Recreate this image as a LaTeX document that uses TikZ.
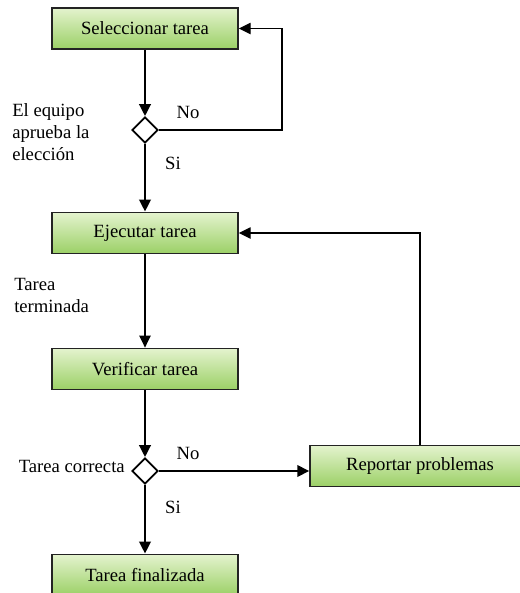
\documentclass[tikz,border=0pt]{standalone}
\usepackage{fontspec}
\setmainfont{Liberation Serif}
\newfontfamily\flowfont{Liberation Serif}
\usetikzlibrary{arrows.meta,shapes.geometric,calc}

\definecolor{boxtop}{RGB}{228,243,206}
\definecolor{boxbot}{RGB}{155,208,102}
\definecolor{boxline}{RGB}{35,35,35}

\begin{document}
\begin{tikzpicture}[
  x=0.75pt, y=-0.75pt,
  font=\flowfont\fontsize{14}{16.5}\selectfont,
  >={Triangle[length=9pt,width=8.5pt]},
  task/.style={draw=boxline, line width=1.1pt, top color=boxtop, bottom color=boxbot, minimum width=139.5pt, minimum height=31pt, inner sep=2pt},
  decision/.style={diamond, draw=black, line width=1.3pt, fill=white, minimum width=19.5pt, minimum height=19.5pt, inner sep=0pt},
  flow/.style={->, line width=2pt},
  back/.style={->, line width=1.1pt},
  note/.style={align=left, inner sep=0pt}
]
\clip (0,0) rectangle (520,593);

\node[task] (sel) at (145,28.5) {Seleccionar tarea};
\node[decision] (dia1) at (145,130) {};
\node[task] (ejec) at (145,233) {Ejecutar tarea};
\node[task] (verif) at (145,369) {Verificar tarea};
\node[decision] (dia2) at (145,471) {};
\node[task, minimum width=165pt] (rep) at (420,466) {Reportar problemas};
\node[task] (fin) at (145,575) {Tarea finalizada};

% labels
\node[note, anchor=west] (lbl1) at (12,132) {El equipo\\aprueba la\\elección};
\node (no1) at (188,112) {No};
\node (si1) at (173,163) {Si};
\node[note, anchor=west] (lbl2) at (14,295) {Tarea\\terminada};
\node[note, anchor=east] (lbl3) at (125,466) {Tarea correcta};
\node (no2) at (188,453) {No};
\node (si2) at (173,507) {Si};

% corners of the loops
\coordinate (loopA) at (282,130);

\draw[flow] (sel) -- (dia1);
\draw[flow] (dia1) -- (ejec);
\draw[back] (dia1.east) -- (loopA) |- (sel.east);
\draw[back] (ejec) -- (verif);
\draw[flow] (verif) -- (dia2);
\draw[flow] (dia2.east) -- (dia2.east -| rep.west);
\draw[flow] (dia2) -- (fin);
\draw[back] (rep.north) |- (ejec.east);

\end{tikzpicture}
\end{document}
